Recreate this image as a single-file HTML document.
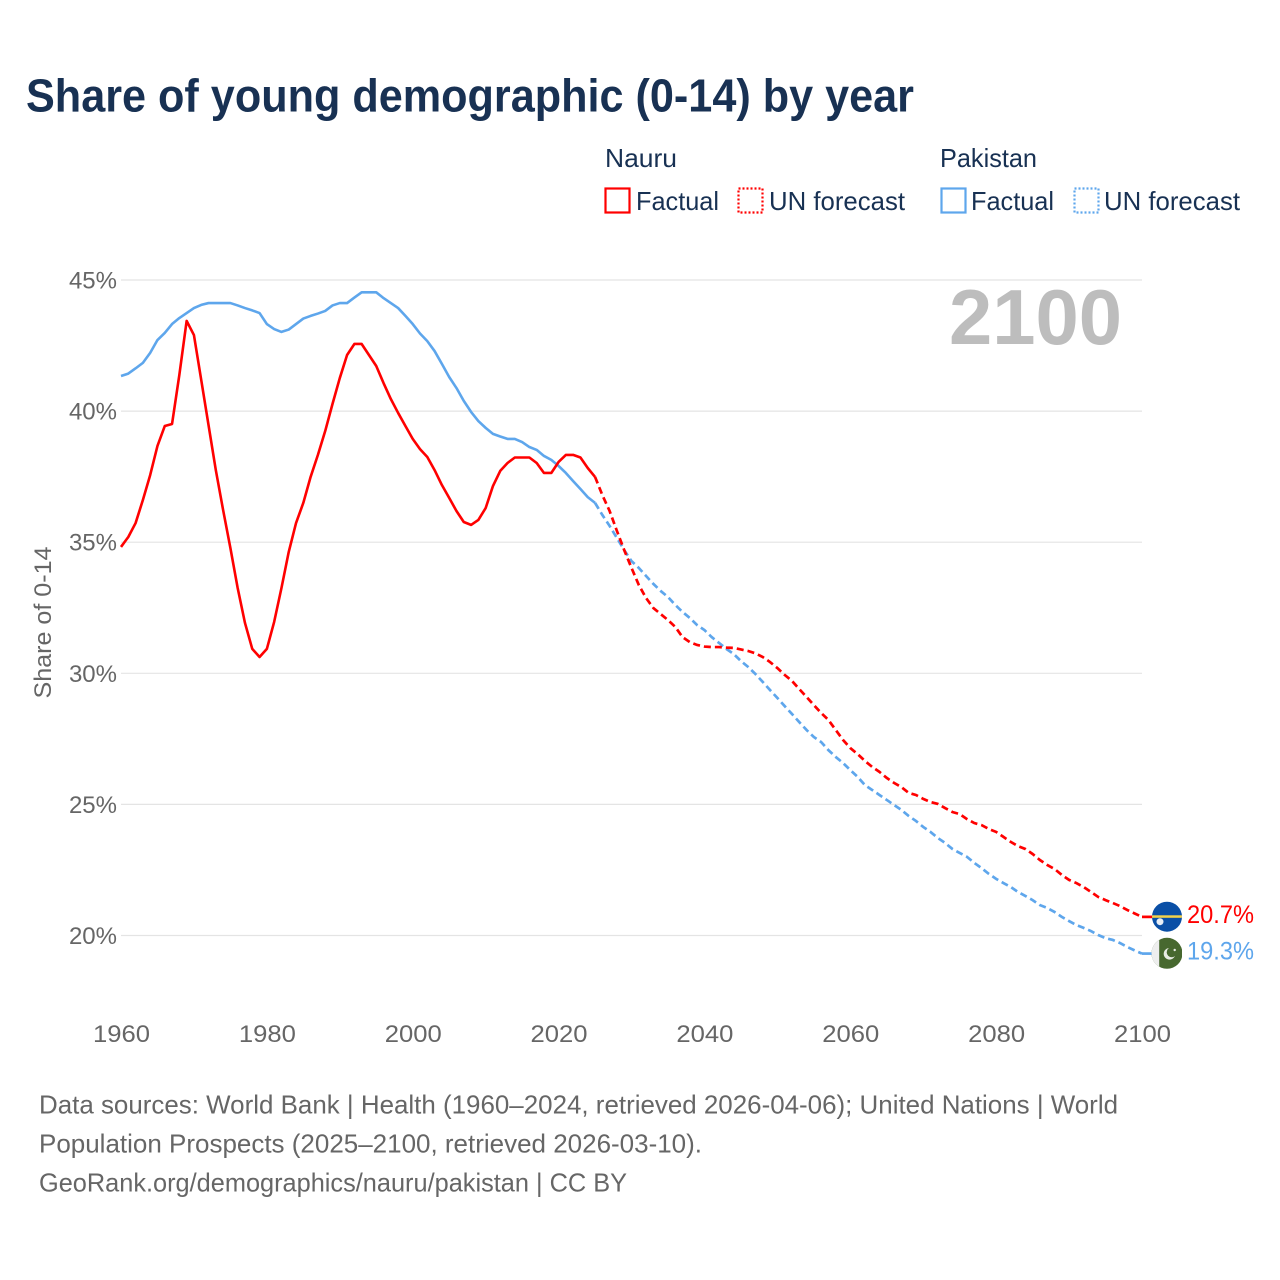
<!DOCTYPE html>
<html lang="en">
<head>
<meta charset="utf-8">
<title>Share of young demographic (0-14) by year</title>
<style>
html,body{margin:0;padding:0;background:#fff;}
svg{display:block;font-family:"Liberation Sans",sans-serif;}
</style>
</head>
<body>
<svg id="chart" xmlns="http://www.w3.org/2000/svg" width="1280" height="1280" viewBox="0 0 1280 1280">
  <defs>
    <clipPath id="clip-nauru"><circle cx="1167" cy="916.7" r="15"/></clipPath>
    <clipPath id="clip-pakistan"><circle cx="1167" cy="953.3" r="15.5"/></clipPath>
  </defs>
  <rect width="1280" height="1280" fill="#fff"/>
  <text x="26" y="111.5" font-size="46" font-weight="700" fill="#183153" textLength="888" lengthAdjust="spacingAndGlyphs">Share of young demographic (0-14) by year</text>

  <g font-size="26" fill="#183153">
    <text x="605" y="167" textLength="72" lengthAdjust="spacingAndGlyphs">Nauru</text>
    <text x="940" y="167" textLength="97" lengthAdjust="spacingAndGlyphs">Pakistan</text>
    <rect x="605.5" y="188.5" width="24" height="24" fill="none" stroke="#ff0000" stroke-width="2.2"/>
    <text x="636" y="210" textLength="83" lengthAdjust="spacingAndGlyphs">Factual</text>
    <rect x="738.5" y="188.5" width="24" height="24" fill="none" stroke="#ff0000" stroke-width="2.2" stroke-dasharray="2 2"/>
    <text x="769" y="210" textLength="136" lengthAdjust="spacingAndGlyphs">UN forecast</text>
    <rect x="941.5" y="188.5" width="24" height="24" fill="none" stroke="#5ea6ec" stroke-width="2.2"/>
    <text x="971" y="210" textLength="83" lengthAdjust="spacingAndGlyphs">Factual</text>
    <rect x="1074.5" y="188.5" width="24" height="24" fill="none" stroke="#5ea6ec" stroke-width="2.2" stroke-dasharray="2 2"/>
    <text x="1104" y="210" textLength="136" lengthAdjust="spacingAndGlyphs">UN forecast</text>
  </g>

  <g id="grid"></g>
  <g id="y-labels"></g>
  <g id="x-labels"></g>

  <text transform="translate(51,622.5) rotate(-90)" text-anchor="middle" font-size="24" fill="#666" textLength="152" lengthAdjust="spacingAndGlyphs">Share of 0-14</text>
  <text x="949" y="344" font-size="78" font-weight="700" fill="#bdbdbd" textLength="173" lengthAdjust="spacingAndGlyphs">2100</text>

  <g id="series"></g>

  <g clip-path="url(#clip-nauru)">
    <rect x="1152" y="901" width="30" height="32" fill="#0a4fa6"/>
    <rect x="1152" y="915.3" width="30" height="2.5" fill="#f3d24b"/>
    <circle cx="1160" cy="921.7" r="3.5" fill="#e8eef6"/>
  </g>
  <g clip-path="url(#clip-pakistan)">
    <rect x="1151" y="937" width="31" height="33" fill="#47682f"/>
    <rect x="1151" y="937" width="8.2" height="33" fill="#eeeeee"/>
    <circle cx="1169.5" cy="953.8" r="5.8" fill="#e8ece4"/>
    <circle cx="1171.7" cy="952.2" r="5" fill="#47682f"/>
    <circle cx="1174.7" cy="950" r="1.2" fill="#e8ece4"/>
  </g>

  <g id="end-labels"></g>

  <g font-size="26" fill="#666">
    <text x="39" y="1113.5" textLength="1079" lengthAdjust="spacingAndGlyphs">Data sources: World Bank | Health (1960–2024, retrieved 2026-04-06); United Nations | World</text>
    <text x="39" y="1152.5" textLength="663" lengthAdjust="spacingAndGlyphs">Population Prospects (2025–2100, retrieved 2026-03-10).</text>
    <text x="39" y="1191.5" textLength="588" lengthAdjust="spacingAndGlyphs">GeoRank.org/demographics/nauru/pakistan | CC BY</text>
  </g>
</svg>
<script>
const yTicks = [20, 25, 30, 35, 40, 45];
const xTicks = [1960, 1980, 2000, 2020, 2040, 2060, 2080, 2100];
const factualStartYear = 1960;
const forecastStartYear = 2025;

const nauruFactual = [34.82,35.20,35.73,36.61,37.56,38.67,39.43,39.51,41.38,43.44,
42.90,41.19,39.47,37.75,36.23,34.78,33.25,31.92,30.93,30.62,
30.93,31.96,33.25,34.63,35.73,36.50,37.49,38.33,39.24,40.27,
41.26,42.14,42.56,42.56,42.14,41.72,41.07,40.46,39.93,39.43,
38.94,38.55,38.25,37.75,37.18,36.69,36.19,35.77,35.66,35.85,
36.30,37.14,37.72,38.02,38.23,38.23,38.23,38.02,37.64,37.64,
38.06,38.33,38.33,38.23,37.83,37.49];

const nauruForecast = [37.49,36.80,36.19,35.43,34.70,34.02,33.37,32.87,32.49,32.26,
32.03,31.77,31.38,31.19,31.08,31.02,31.00,31.00,30.98,30.97,
30.91,30.85,30.76,30.62,30.43,30.20,29.94,29.71,29.40,29.10,
28.79,28.49,28.22,27.84,27.46,27.15,26.92,26.66,26.43,26.24,
26.01,25.82,25.66,25.44,25.36,25.21,25.09,25.02,24.86,24.71,
24.63,24.44,24.29,24.21,24.06,23.95,23.76,23.57,23.41,23.30,
23.11,22.88,22.69,22.54,22.31,22.12,22.00,21.85,21.66,21.47,
21.35,21.24,21.12,20.97,20.84,20.71];

const pakistanFactual = [41.34,41.43,41.63,41.84,42.22,42.71,42.98,43.32,43.55,43.74,
43.93,44.05,44.12,44.12,44.12,44.12,44.03,43.93,43.84,43.74,
43.32,43.13,43.02,43.11,43.32,43.53,43.63,43.72,43.82,44.03,
44.12,44.12,44.33,44.53,44.53,44.53,44.31,44.12,43.93,43.63,
43.32,42.96,42.67,42.29,41.80,41.30,40.88,40.39,39.97,39.62,
39.36,39.13,39.03,38.94,38.94,38.82,38.63,38.52,38.29,38.14,
37.91,37.64,37.33,37.03,36.72,36.50];

const pakistanForecast = [36.50,36.04,35.62,35.16,34.70,34.28,34.02,33.71,33.41,33.14,
32.91,32.61,32.34,32.11,31.84,31.65,31.38,31.16,30.93,30.74,
30.47,30.24,29.97,29.67,29.36,29.06,28.75,28.45,28.14,27.84,
27.57,27.38,27.07,26.81,26.58,26.31,26.05,25.74,25.55,25.36,
25.17,24.98,24.79,24.56,24.37,24.14,23.95,23.72,23.53,23.30,
23.15,23.00,22.77,22.57,22.35,22.16,22.00,21.85,21.66,21.51,
21.35,21.16,21.05,20.90,20.71,20.55,20.40,20.29,20.17,20.02,
19.90,19.83,19.71,19.56,19.43,19.31];

const endLabelNauru = "20.7%";
const endLabelPakistan = "19.3%";

const SVG_NS = "http://www.w3.org/2000/svg";
const RED = "#ff0000";
const BLUE = "#5ea6ec";
const FLAG_LEFT = 1153;

function xScale(year) { return 121 + (year - 1960) * (1021 / 140); }
function yScale(value) { return 935.5 - (value - 20) * 26.22; }

function linePath(values, startYear) {
  return values.map(function (v, i) {
    return (i === 0 ? "M" : "L") + xScale(startYear + i).toFixed(2) + " " + yScale(v).toFixed(2);
  }).join(" ");
}

function leaderPath(values) {
  const last = values[values.length - 1];
  return "M" + xScale(2100).toFixed(2) + " " + yScale(last).toFixed(2) + " L" + FLAG_LEFT + " " + yScale(last).toFixed(2);
}

const gridGroup = document.getElementById("grid");
const yLabelGroup = document.getElementById("y-labels");
const xLabelGroup = document.getElementById("x-labels");
const seriesGroup = document.getElementById("series");
const endGroup = document.getElementById("end-labels");

yTicks.forEach(function (t) {
  const line = document.createElementNS(SVG_NS, "line");
  line.setAttribute("x1", xScale(1960));
  line.setAttribute("x2", xScale(2100));
  line.setAttribute("y1", yScale(t));
  line.setAttribute("y2", yScale(t));
  line.setAttribute("stroke", "#e4e4e4");
  line.setAttribute("stroke-width", "1.2");
  
  
  gridGroup.appendChild(line);

  const label = document.createElementNS(SVG_NS, "text");
  label.setAttribute("x", 117);
  label.setAttribute("y", yScale(t) + 8.5);
  label.setAttribute("text-anchor", "end");
  label.setAttribute("font-size", "24");
  label.setAttribute("fill", "#666");
  label.textContent = t + "%";
  
  
  yLabelGroup.appendChild(label);
});

xTicks.forEach(function (t) {
  const label = document.createElementNS(SVG_NS, "text");
  label.setAttribute("x", xScale(t) + 0.5);
  label.setAttribute("y", 1042);
  label.setAttribute("text-anchor", "middle");
  label.setAttribute("font-size", "24");
  label.setAttribute("fill", "#666");
  label.setAttribute("textLength", "57");
  label.setAttribute("lengthAdjust", "spacingAndGlyphs");
  label.textContent = t;
  
  
  xLabelGroup.appendChild(label);
});

const nauruFactualLine = document.createElementNS(SVG_NS, "path");
nauruFactualLine.setAttribute("d", linePath(nauruFactual, factualStartYear));
nauruFactualLine.setAttribute("fill", "none");
nauruFactualLine.setAttribute("stroke", RED);
nauruFactualLine.setAttribute("stroke-width", "2.6");
nauruFactualLine.setAttribute("stroke-linejoin", "round");



const nauruForecastLine = document.createElementNS(SVG_NS, "path");
nauruForecastLine.setAttribute("d", linePath(nauruForecast, forecastStartYear));
nauruForecastLine.setAttribute("fill", "none");
nauruForecastLine.setAttribute("stroke", RED);
nauruForecastLine.setAttribute("stroke-width", "2.7");
nauruForecastLine.setAttribute("stroke-dasharray", "7 4");



const nauruLeader = document.createElementNS(SVG_NS, "path");
nauruLeader.setAttribute("d", leaderPath(nauruForecast));
nauruLeader.setAttribute("fill", "none");
nauruLeader.setAttribute("stroke", RED);
nauruLeader.setAttribute("stroke-width", "2.7");



const pakistanFactualLine = document.createElementNS(SVG_NS, "path");
pakistanFactualLine.setAttribute("d", linePath(pakistanFactual, factualStartYear));
pakistanFactualLine.setAttribute("fill", "none");
pakistanFactualLine.setAttribute("stroke", BLUE);
pakistanFactualLine.setAttribute("stroke-width", "2.6");
pakistanFactualLine.setAttribute("stroke-linejoin", "round");



const pakistanForecastLine = document.createElementNS(SVG_NS, "path");
pakistanForecastLine.setAttribute("d", linePath(pakistanForecast, forecastStartYear));
pakistanForecastLine.setAttribute("fill", "none");
pakistanForecastLine.setAttribute("stroke", BLUE);
pakistanForecastLine.setAttribute("stroke-width", "2.7");
pakistanForecastLine.setAttribute("stroke-dasharray", "7 4");



const pakistanLeader = document.createElementNS(SVG_NS, "path");
pakistanLeader.setAttribute("d", leaderPath(pakistanForecast));
pakistanLeader.setAttribute("fill", "none");
pakistanLeader.setAttribute("stroke", BLUE);
pakistanLeader.setAttribute("stroke-width", "2.7");



seriesGroup.appendChild(pakistanFactualLine);
seriesGroup.appendChild(pakistanForecastLine);
seriesGroup.appendChild(pakistanLeader);
seriesGroup.appendChild(nauruFactualLine);
seriesGroup.appendChild(nauruForecastLine);
seriesGroup.appendChild(nauruLeader);

const nauruEnd = document.createElementNS(SVG_NS, "text");
nauruEnd.setAttribute("x", 1187);
nauruEnd.setAttribute("y", yScale(nauruForecast[nauruForecast.length - 1]) + 6);
nauruEnd.setAttribute("font-size", "25");
nauruEnd.setAttribute("fill", RED);
nauruEnd.setAttribute("textLength", "67");
nauruEnd.setAttribute("lengthAdjust", "spacingAndGlyphs");
nauruEnd.textContent = endLabelNauru;


endGroup.appendChild(nauruEnd);

const pakistanEnd = document.createElementNS(SVG_NS, "text");
pakistanEnd.setAttribute("x", 1187);
pakistanEnd.setAttribute("y", yScale(pakistanForecast[pakistanForecast.length - 1]) + 6);
pakistanEnd.setAttribute("font-size", "25");
pakistanEnd.setAttribute("fill", BLUE);
pakistanEnd.setAttribute("textLength", "67");
pakistanEnd.setAttribute("lengthAdjust", "spacingAndGlyphs");
pakistanEnd.textContent = endLabelPakistan;


endGroup.appendChild(pakistanEnd);
</script>
</body>
</html>
